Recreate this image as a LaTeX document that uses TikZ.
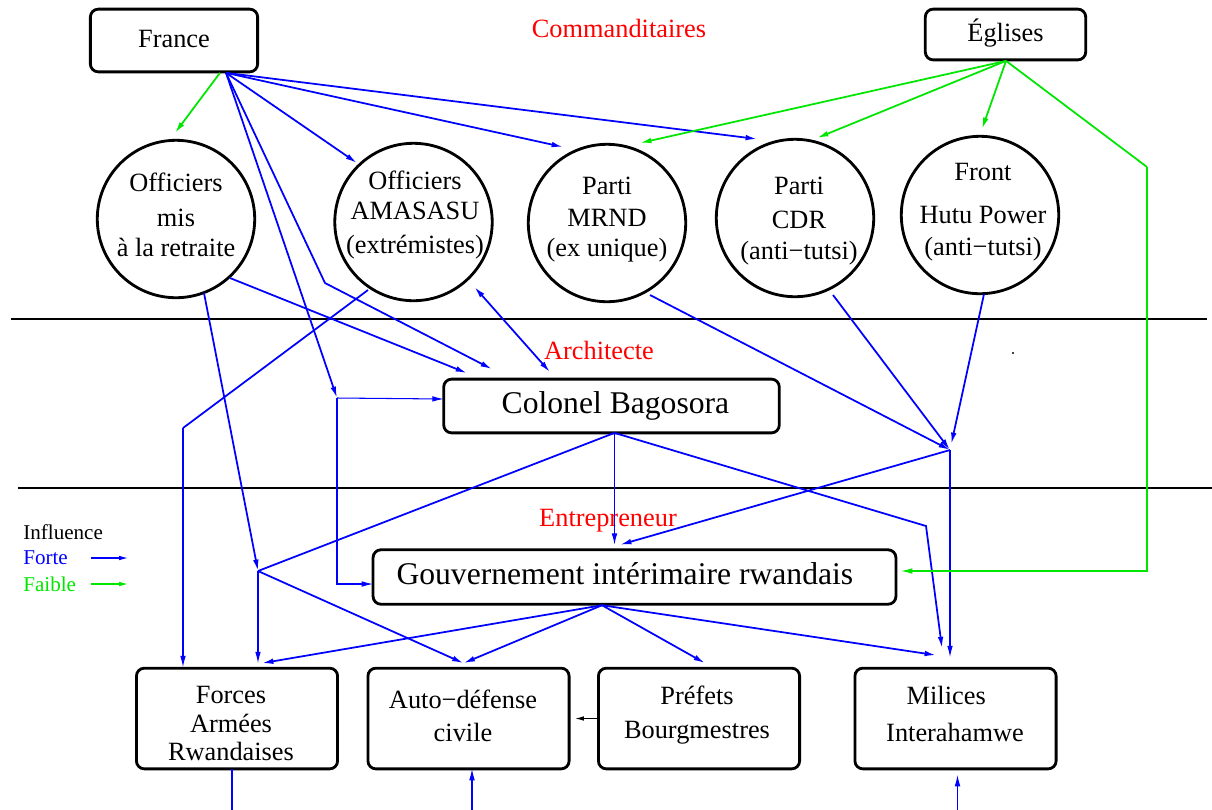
\documentclass[tikz,border=0pt]{standalone}
\usepackage{fontspec}
\setmainfont{Liberation Serif}
\usetikzlibrary{arrows.meta,calc}
\definecolor{fblue}{RGB}{0,0,255}
\definecolor{fgreen}{RGB}{0,230,0}
\definecolor{fred}{RGB}{255,0,0}
\begin{document}
\begin{tikzpicture}[x=0.02cm,y=-0.02cm,
  box/.style={draw,line width=1.6pt,rounded corners=4.5pt,inner sep=0pt,outer sep=0pt,
    font=\fontsize{15}{17}\selectfont,text height=0.98em,text depth=0.18em},
  bigbox/.style={box,font=\fontsize{18}{21}\selectfont},
  circ/.style={draw,circle,line width=1.6pt,minimum size=89.6pt,inner sep=0pt,outer sep=0pt},
  ctext/.style={align=center,inner sep=0pt,font=\fontsize{15}{17}\selectfont},
  lvl/.style={text=fred,inner sep=0pt,font=\fontsize{15}{17}\selectfont},
  leg/.style={anchor=west,inner sep=0pt,font=\fontsize{12}{14}\selectfont},
  bl/.style={draw=fblue,line width=1.0pt},
  blt/.style={draw=fblue,line width=0.6pt},
  gr/.style={draw=fgreen,line width=1.0pt},
  grt/.style={draw=fgreen,line width=0.6pt},
  arr/.style={-{Latex[length=6.5pt,width=3.2pt]}},
  darr/.style={{Latex[length=6.5pt,width=3.2pt]}-{Latex[length=6.5pt,width=3.2pt]}},
  sarr/.style={-{Latex[length=5pt,width=2.6pt]}},
  divider/.style={draw=black,line width=1.5pt}
]
\useasboundingbox (0,0) rectangle (1212,809);

% level labels
\node[lvl] (lcom) at (619,28) {Commanditaires};
\node[lvl] (larch) at (599,350) {Architecte};
\node[lvl] (lent) at (608,521) {Entrepreneur};

% dividers
\draw[divider] (11,319) -- (1207,319);
\draw[divider] (18,488) -- (1212,488);

% top boxes
\node[box,minimum width=95.2pt,minimum height=35.7pt] (france) at (174,40.5) {France};
\node[box,minimum width=91.3pt,minimum height=28.9pt] (eglises) at (1005.5,34.5) {Églises};

% circles
\node[circ] (c1) at (176,219) {};
\node[circ] (c2) at (413.5,222) {};
\node[circ] (c3) at (607,223) {};
\node[circ] (c4) at (795,218) {};
\node[circ] (c5) at (980,215) {};
\node[ctext] (c1t) at (176,215) {Officiers\\[2.8pt]mis\\à la retraite};
\node[ctext] (c2t) at (415,215) {Officiers\\AMASASU\\[2.8pt](extrémistes)};
\node[ctext] (c3t) at (607,219.5) {Parti\\[1.7pt]MRND\\(ex unique)};
\node[ctext] (c4t) at (799,221) {Parti\\[2.8pt]CDR\\[0.6pt](anti−tutsi)};
\node[ctext] (c5t) at (983,212) {Front\\[7.4pt]Hutu Power\\[1.1pt](anti−tutsi)};

% middle boxes
\node[bigbox,minimum width=191pt,minimum height=30.6pt] (col) at (611.5,406) {\hspace*{4.5pt}Colonel Bagosora};
\node[bigbox,minimum width=297.6pt,minimum height=31pt] (gouv) at (634.5,577) {Gouvernement intérimaire rwandais\hspace*{11pt}};

% bottom boxes
\node[box,minimum width=114.5pt,minimum height=57.3pt] (forces) at (237,718.5) {};
\node[box,minimum width=114.5pt,minimum height=57.3pt] (auto) at (468.5,718.5) {};
\node[box,minimum width=114.5pt,minimum height=57.3pt] (prefets) at (699,718.5) {};
\node[box,minimum width=114.5pt,minimum height=57.3pt] (milices) at (955.5,718.5) {};
\node[ctext] (forcest) at (231,723.5) {Forces\\[-0.6pt]Armées\\[-1.1pt]Rwandaises};
\node[ctext] (autot) at (463,716) {Auto−défense\\[1.7pt]civile};
\node[ctext] (prefetst) at (697,715.5) {Préfets\\[2.3pt]Bourgmestres};
\node[ctext] (milicest) at (955,714) {Milices\hspace*{10pt}\\[4pt]Interahamwe};

% legend
\node[leg] (linf) at (23,532) {Influence};
\node[leg,text=fblue] (lfor) at (23,558) {Forte};
\node[leg,text=fgreen] (lfai) at (23,584) {Faible};
\coordinate (la1) at (91,558);
\coordinate (la2) at (128,558);
\coordinate (lb1) at (91,584);
\coordinate (lb2) at (128,584);
\draw[blt,sarr] (la1) -- (la2);
\draw[grt,sarr] (lb1) -- (lb2);

% junctions
\coordinate (fb) at ($(france.south)+(52,1)$);
\coordinate (fg) at ($(france.south)+(46,1)$);
\coordinate (eo) at ($(eglises.south)+(0.5,1)$);
\coordinate (ja) at (337,398);
\coordinate (j1) at (258,571);
\coordinate (j2) at (950,450);
\coordinate (k1) at (183,428);
\coordinate (k2) at (926,526);
\coordinate (k3) at (325,283);
\coordinate (k4) at (1147,167);
\coordinate (k5) at (1147,571);
\coordinate (cb) at ($(col.south)+(3,0)$);
\coordinate (gb) at ($(gouv.south)+(-32.5,1)$);
\coordinate (b1) at ($(forces.south)+(-5,45)$);
\coordinate (b2) at ($(auto.south)+(3.5,45)$);
\coordinate (b3) at ($(milices.south)+(2,45)$);

% France
\draw[gr,arr] (fg) -- ($(c1)+(-1,-86)$);
\draw[bl,arr] (fb) -- ($(c2)+(-56.5,-59)$);
\draw[bl,arr] (fb) -- ($(c3)+(-44,-76)$);
\draw[bl,arr] (fb) -- ($(c4)+(-38,-79)$);
\draw[bl,arr] (fb) -- (ja);
\draw[bl,arr] (fb) -- (k3) -- ($(col.north)+(-119.5,-10)$);
\draw[blt,arr] (ja) -- ($(col.west)+(0,-7)$);
\draw[blt,arr] (ja) |- ($(gouv.west)+(0,7)$);

% Officiers mis a la retraite
\draw[bl,arr] ($(c1)+(54,59)$) -- ($(col.north)+(-144.5,-6)$);
\draw[bl,arr] ($(c1)+(28,74)$) -- (j1);

% AMASASU
\draw[bl] ($(c2)+(-45.5,68)$) -- (k1);
\draw[blt,arr] (k1) -- ($(forces.north)+(-54,-1)$);
\draw[bl,darr] ($(c2)+(61,65)$) -- ($(col.north)+(-61.5,-7)$);

% junction j1
\draw[bl] (cb) -- (j1);
\draw[blt,arr] (j1) -- ($(forces.north)+(21,-5)$);
\draw[bl,arr] (j1) -- ($(auto.north)+(-5,-5)$);

% parties to j2
\draw[bl,arr] ($(c3)+(43,72)$) -- (j2);
\draw[bl,arr] ($(c4)+(38,77)$) -- (j2);
\draw[bl,arr,shorten >=3.5pt] ($(c5)+(4,79)$) -- (j2);
\draw[blt,arr] (j2) -- ($(milices.north)+(-5.5,-11)$);
\draw[bl,arr] (j2) -- ($(gouv.north)+(-14.5,-5)$);

% Colonel
\draw[blt,arr] (cb) -- ($(gouv.north)+(-20,-5)$);
\draw[bl,arr] (cb) -- (k2) -- ($(milices.north)+(-13.5,-20)$);

% Gouvernement
\draw[bl,arr] (gb) -- ($(forces.north)+(25,-5)$);
\draw[bl,arr] (gb) -- ($(auto.north)+(-5,-5)$);
\draw[bl,arr] (gb) -- ($(prefets.north)+(6,-5)$);
\draw[bl,arr] (gb) -- ($(milices.north)+(-19.5,-13)$);

% Eglises
\draw[gr,arr] (eo) -- ($(c3)+(33,-80)$);
\draw[gr,arr] (eo) -- ($(c4)+(22,-80)$);
\draw[gr,arr] (eo) -- ($(c5)+(2,-86)$);
\draw[gr] (eo) -- (k4);
\draw[grt,arr] (k4) -- (k5) -- ($(gouv.east)+(5,-6)$);

% bottom
\draw[blt] ($(forces.south)+(-5,0)$) -- (b1);
\draw[blt,arr] (b2) -- ($(auto.south)+(3.5,0)$);
\draw[blt,arr] (b3) -- ($(milices.south)+(2,6)$);
\draw[line width=0.6pt,sarr] (prefets.west) -- ($(auto.east)+(6,0)$);

% stray dot
\fill (1013,353) circle (0.6pt);
\end{tikzpicture}
\end{document}
